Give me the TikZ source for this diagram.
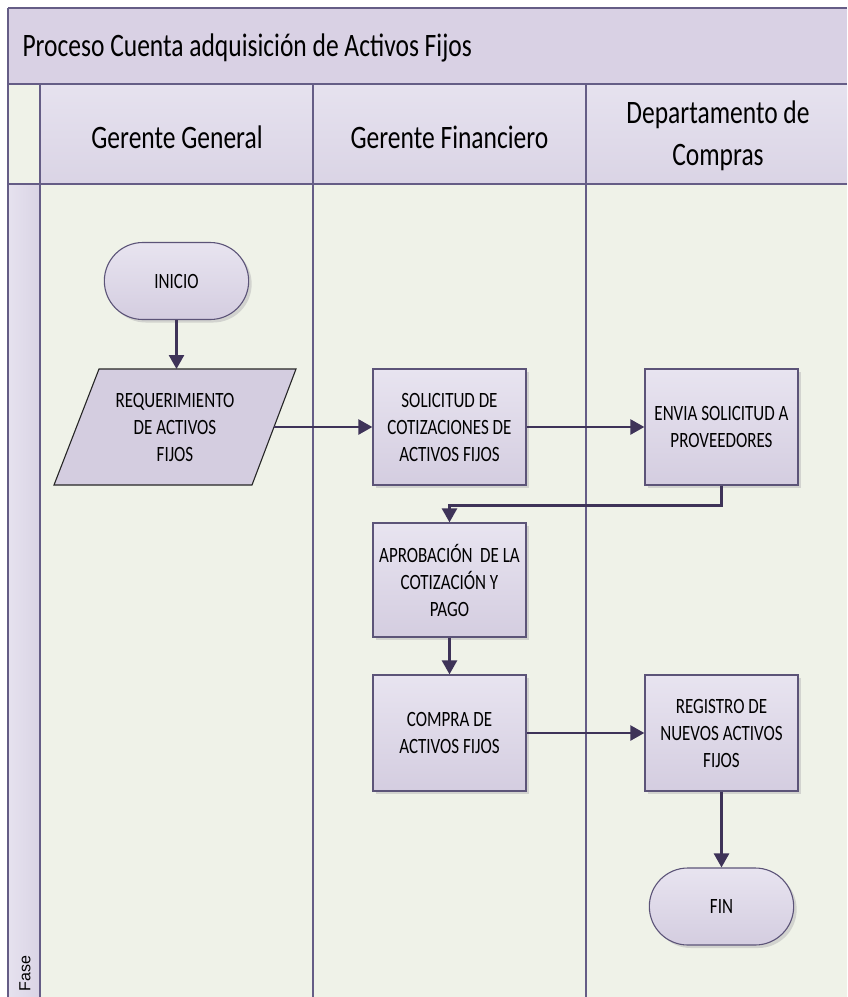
\documentclass[tikz,border=0pt]{standalone}
\usepackage{fontspec}
\setmainfont{Carlito}
\newfontfamily\cfont[FakeStretch=0.78]{Carlito}
\newfontfamily\lsans{Liberation Sans}
\usetikzlibrary{shapes.misc,arrows.meta,shadows}

\definecolor{bodybg}{HTML}{EFF2E8}
\definecolor{titlebg}{HTML}{D9D1E4}
\definecolor{headtop}{HTML}{E6E2EF}
\definecolor{headbot}{HTML}{DAD4E5}
\definecolor{gridline}{HTML}{655D86}
\definecolor{boxtop}{HTML}{E8E4F0}
\definecolor{boxbot}{HTML}{D4CDE0}
\definecolor{boxline}{HTML}{5C5478}
\definecolor{arrowc}{HTML}{3E3358}

\tikzset{
  lane/.style={draw=gridline, line width=1.2pt},
  shadowed/.style={drop shadow={shadow xshift=3pt, shadow yshift=-3pt, fill=black!25, opacity=0.6}},
  boxfont/.style={font=\cfont\fontsize{21.8}{27}\selectfont},
  procbox/.style={rectangle, draw=boxline, line width=1.3pt, top color=boxtop, bottom color=boxbot,
    minimum width=153pt, minimum height=116pt, align=center, inner sep=2pt, boxfont, shadowed},
  terminal/.style={rounded rectangle, draw=boxline, line width=1.1pt, top color=boxtop, bottom color=boxbot,
    minimum width=151pt, minimum height=77pt, align=center, boxfont, shadowed},
  dataframe/.style={draw=black!85, line width=1.1pt, fill=boxbot},
  flow/.style={draw=arrowc, line width=2.6pt, -{Triangle[length=14pt,width=15pt]}},
  headtext/.style={font=\cfont\fontsize{32.7}{42}\selectfont, align=center, text=black}
}

\begin{document}
\begin{tikzpicture}[x=1pt,y=-1pt]
\useasboundingbox (0,0) rectangle (847,997);
\fill[white] (0,0) rectangle (847,997);

% title band
\fill[titlebg] (8,8) rectangle (847,84);
\node[anchor=west, font=\cfont\fontsize{32.7}{38}\selectfont] (title) at (19,48) {Proceso Cuenta adquisición de Activos Fijos};

% header row
\fill[bodybg] (8,84) rectangle (40,184);
\shade[top color=headtop, bottom color=headbot] (40,84) rectangle (847,184);
\node[headtext] (h1) at (177,137) {Gerente General};
\node[headtext] (h2) at (449.5,137) {Gerente Financiero};
\node[headtext] (h3) at (718,136) {Departamento de\\Compras};

% body
\fill[bodybg] (40,184) rectangle (847,997);
\shade[left color=headtop, right color=headbot] (8,184) rectangle (40,997);
\node[rotate=90, anchor=west, font=\lsans\fontsize{16}{18}\selectfont] (fase) at (25,995) {Fase};

% lane lines
\draw[lane] (8,8) -- (847,8);
\draw[lane] (8,8) -- (8,997);
\draw[lane] (8,84) -- (847,84);
\draw[lane, line width=1.8pt] (8,184) -- (847,184);
\draw[lane] (40,84) -- (40,997);
\draw[lane] (313,84) -- (313,997);
\draw[lane] (586,84) -- (586,997);

% input/output parallelogram
\draw[dataframe] (99,369) -- (296,369) -- (252,485) -- (54,485) -- cycle;
\coordinate (reqE) at (274,427);

% flow nodes
\node[terminal] (inicio) at (176.5,281) {INICIO};
\node[align=center, boxfont, inner sep=0pt] (req) at (175,427) {REQUERIMIENTO\\DE ACTIVOS\\FIJOS};
\node[procbox] (sol) at (449.5,427) {SOLICITUD DE\\COTIZACIONES DE\\ACTIVOS FIJOS};
\node[procbox] (env) at (721.5,427) {ENVIA SOLICITUD A\\PROVEEDORES};
\node[procbox, minimum height=114pt] (apr) at (449.5,580) {APROBACIÓN~ DE LA\\COTIZACIÓN Y\\PAGO};
\node[procbox] (com) at (449.5,733) {COMPRA DE\\ACTIVOS FIJOS};
\node[procbox] (reg) at (721.5,733) {REGISTRO DE\\NUEVOS ACTIVOS\\FIJOS};
\node[terminal] (fin) at (721.5,906.5) {FIN};

% connectors
\draw[flow] (inicio.south) -- (inicio.south |- 0,369);
\draw[flow] (reqE) -- (sol.west);
\draw[flow] (sol.east) -- (env.west);
\draw[flow] (env.south) -- ++(0,20) -| (apr.north);
\draw[flow] (apr.south) -- (com.north);
\draw[flow] (com.east) -- (reg.west);
\draw[flow] (reg.south) -- (fin.north);
\end{tikzpicture}
\end{document}
